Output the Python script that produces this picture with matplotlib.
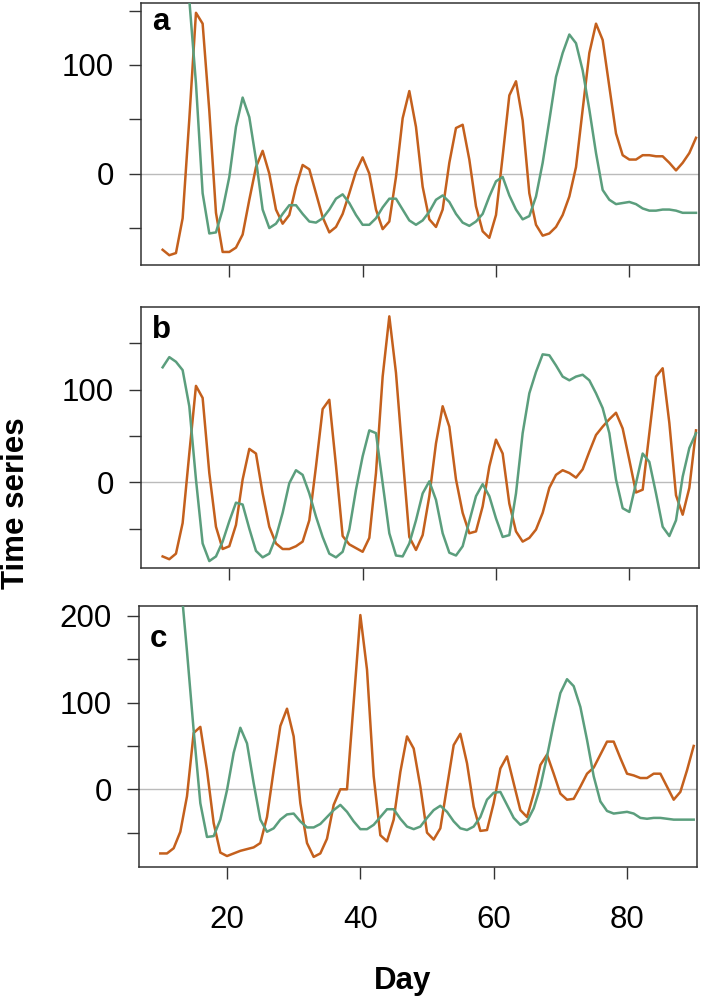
import numpy as np
import matplotlib
matplotlib.use("Agg")
import matplotlib.pyplot as plt

plt.rcParams['font.family'] = ['Liberation Sans', 'DejaVu Sans']

# days 10..90
days = np.arange(10, 91)

# panel a
a_orange = [-70, -75, -73, -41, 50, 148, 138, 58, -36, -72,
            -72, -68, -56, -24, 6, 21, 0, -33, -46, -38,
            -12, 8, 4, -18, -40, -54, -49, -37, -18, 2,
            15, 0, -33, -51, -44, -3, 51, 76, 43, -12,
            -42, -49, -33, 10, 42, 45, 13, -30, -53, -59,
            -38, 16, 72, 85, 49, -18, -47, -57, -55, -49,
            -38, -21, 6, 59, 111, 138, 123, 80, 37, 17,
            13, 13, 17, 17, 16, 16, 10, 3, 10, 19, 33]
a_green = [260, 275, 270, 245, 160, 83, -18, -55, -54, -33,
           -3, 43, 70, 52, 13, -33, -50, -46, -37, -29,
           -29, -37, -44, -45, -41, -33, -23, -19, -27, -38,
           -47, -47, -41, -31, -23, -23, -33, -43, -47, -43,
           -35, -24, -20, -26, -37, -45, -48, -44, -37, -21,
           -7, -3, -20, -33, -42, -39, -21, 10, 49, 89,
           111, 128, 120, 95, 59, 19, -15, -24, -28, -27,
           -26, -28, -32, -34, -34, -33, -33, -34, -36, -36, -36]

# panel b
b_orange = [-80, -83, -77, -44, 31, 104, 91, 10, -48, -72,
            -69, -46, 3, 36, 31, -12, -48, -66, -72, -72,
            -69, -64, -41, 17, 79, 89, 18, -58, -67, -71,
            -75, -60, 10, 114, 179, 118, 28, -59, -73, -57,
            -15, 42, 82, 60, 3, -33, -55, -53, -26, 17,
            46, 31, -23, -53, -64, -60, -51, -33, -6, 8,
            13, 10, 5, 14, 33, 51, 60, 68, 75, 58,
            24, -11, -8, 53, 114, 123, 64, -14, -35, -6, 56]
b_green = [124, 135, 130, 121, 82, 3, -66, -85, -80, -64,
           -42, -22, -24, -50, -74, -81, -77, -59, -33, -1,
           13, 8, -12, -37, -59, -77, -81, -75, -51, -8,
           28, 56, 53, -1, -55, -79, -80, -66, -41, -12,
           1, -19, -55, -76, -79, -69, -42, -15, -2, -15,
           -39, -59, -57, -12, 53, 96, 119, 138, 137, 126,
           114, 110, 114, 116, 110, 96, 80, 53, 3, -28,
           -32, -1, 31, 22, -12, -48, -58, -41, 6, 37, 53]

# panel c
c_orange = [-74, -74, -68, -49, -8, 65, 72, 22, -39, -73,
            -77, -74, -71, -69, -67, -62, -32, 22, 73, 93,
            61, -16, -62, -78, -74, -57, -18, 0, 0, 100,
            201, 138, 15, -53, -60, -35, 20, 61, 47, 3,
            -50, -58, -45, 3, 51, 64, 30, -20, -48, -47,
            -16, 24, 38, 7, -24, -32, -5, 28, 40, 18,
            -5, -12, -11, 3, 18, 25, 40, 55, 55, 36,
            18, 16, 13, 13, 18, 18, 3, -12, -3, 22, 50]
c_green = [260, 275, 270, 245, 159, 68, -16, -55, -54, -35,
           -1, 42, 71, 53, 7, -35, -49, -45, -35, -29,
           -28, -37, -44, -44, -40, -32, -24, -18, -26, -37,
           -46, -46, -41, -32, -23, -23, -34, -43, -46, -43,
           -33, -24, -19, -26, -37, -45, -47, -43, -32, -12,
           -4, -3, -18, -33, -41, -37, -22, 3, 38, 76,
           111, 127, 119, 95, 57, 15, -14, -25, -28, -27,
           -26, -28, -33, -34, -33, -33, -34, -35, -35, -35, -35]

orange = '#C4601D'
green = '#5B9E7D'
edge = '#333333'

panels = [
    dict(o=a_orange, g=a_green, label='a', rect=[0.1956, 0.735, 0.7739, 0.262],
         ylim=(-84, 157), yticks=[-50, 0, 50, 100, 150],
         ylabels=['', '0', '', '100', ''], lab_y=0.897),
    dict(o=b_orange, g=b_green, label='b', rect=[0.1956, 0.4317, 0.7739, 0.2616],
         ylim=(-92.8, 189.4), yticks=[-50, 0, 50, 100, 150],
         ylabels=['', '0', '', '100', ''], lab_y=0.880),
    dict(o=c_orange, g=c_green, label='c', rect=[0.1924, 0.1333, 0.7739, 0.261],
         ylim=(-89.3, 211.8), yticks=[-50, 0, 50, 100, 150, 200],
         ylabels=['', '0', '', '100', '', '200'], lab_y=0.84),
]

fig = plt.figure(figsize=(7.21, 10), dpi=100)

for i, p in enumerate(panels):
    ax = fig.add_axes(p['rect'])
    ax.axhline(0, color='#BBBBBB', lw=1.0, zorder=1)
    ax.plot(days, p['o'], color=orange, lw=1.8, zorder=2)
    ax.plot(days, p['g'], color=green, lw=1.8, zorder=3)
    ax.set_xlim(6.76, 90.45)
    ax.set_ylim(*p['ylim'])
    ax.set_xticks([20, 40, 60, 80])
    ax.set_yticks(p['yticks'])
    ax.set_yticklabels(p['ylabels'])
    if i < 2:
        ax.set_xticklabels([])
    ax.tick_params(axis='both', direction='out', length=8.5, width=1.0,
                   color=edge, labelsize=22.5)
    ax.tick_params(axis='y', pad=11)
    ax.tick_params(axis='x', pad=19)
    for s in ax.spines.values():
        s.set_color(edge)
        s.set_linewidth(1.1)
    ax.text(0.019, p['lab_y'], p['label'], transform=ax.transAxes,
            fontsize=22.5, fontweight='bold', ha='left', va='baseline')

fig.text(0.5585, 0.0105, 'Day', fontsize=22.5, fontweight='bold',
         ha='center', va='baseline')
fig.text(0.0225, 0.497, 'Time series', fontsize=22.5, fontweight='bold',
         ha='center', va='center', rotation=90)

fig.savefig('out.png', dpi=100)
